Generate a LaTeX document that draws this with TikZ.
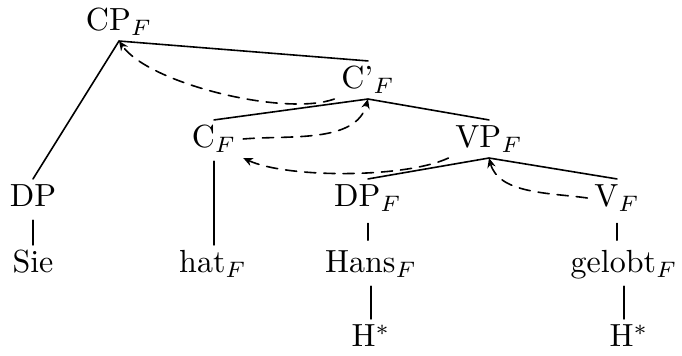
\documentclass[tikz,border=0pt]{standalone}
\usepackage{tikz}
\usetikzlibrary{arrows.meta}

\begin{document}
\begin{tikzpicture}[x=0.3125pt,y=-0.3125pt,line cap=round,
  cat/.style={inner xsep=2pt,inner ysep=1.5pt,text height=7pt,text depth=1.5pt},
  branch/.style={line width=.5pt},
  stem/.style={line width=.5pt,shorten <=1pt},
  move/.style={-{Stealth[length=3pt,width=2.6pt]},line width=.5pt,
    dash pattern=on 3.5pt off 2.5pt}]
\path[use as bounding box] (0,0) rectangle (682,356);

% categories
\node[cat] (cp) at (119,22) {CP$_F$};
\node[cat] (cb) at (368,80) {C'$_F$};
\node[cat] (c) at (214,139) {C$_F$};
\node[cat] (vp) at (489,139) {VP$_F$};
\node[cat] (dp) at (33,198) {DP};
\node[cat] (dpf) at (368,198) {DP$_F$};
\node[cat] (v) at (617,198) {V$_F$};

% words and tones
\node[cat] (sie) at (33,264) {Sie};
\node[cat] (hat) at (213,264) {hat$_F$};
\node[cat] (hans) at (371,264) {Hans$_F$};
\node[cat] (gelobt) at (624,264) {gelobt$_F$};
\node[cat] (hone) at (371,338) {H$^*$};
\node[cat] (htwo) at (629,338) {H$^*$};

% branches
\draw[branch] (cp.south) -- (cb.north);
\draw[branch] (cp.south) -- (dp.north);
\draw[branch] (cb.south) -- (c.north);
\draw[branch] (cb.south) -- (vp.north);
\draw[branch] (vp.south) -- (dpf.north);
\draw[branch] (vp.south) -- (v.north);
\draw[stem] (dp.south) -- (dp.south |- sie.north);
\draw[stem] (c.south) -- (c.south |- hat.north);
\draw[stem,shorten <=2pt,shorten >=1.5pt] (dpf.south) -- (dpf.south |- hans.north);
\draw[stem,shorten <=2pt,shorten >=1.5pt] (v.south) -- (v.south |- gelobt.north);
\draw[stem] (hans.south) -- (hans.south |- hone.north);
\draw[stem] (gelobt.south) -- (gelobt.south |- htwo.north);

% movement
\draw[move] (cb.south west) to[out=200,in=-55,looseness=.6] (cp.south);
\draw[move] (c.east) to[out=5,in=-105,looseness=.9] (cb.south);
\draw[move] (vp.south west) to[out=205,in=-25,looseness=.6] (c.south east);
\draw[move] (v.west) to[out=172,in=-75,looseness=.9] (vp.south);
\end{tikzpicture}
\end{document}
